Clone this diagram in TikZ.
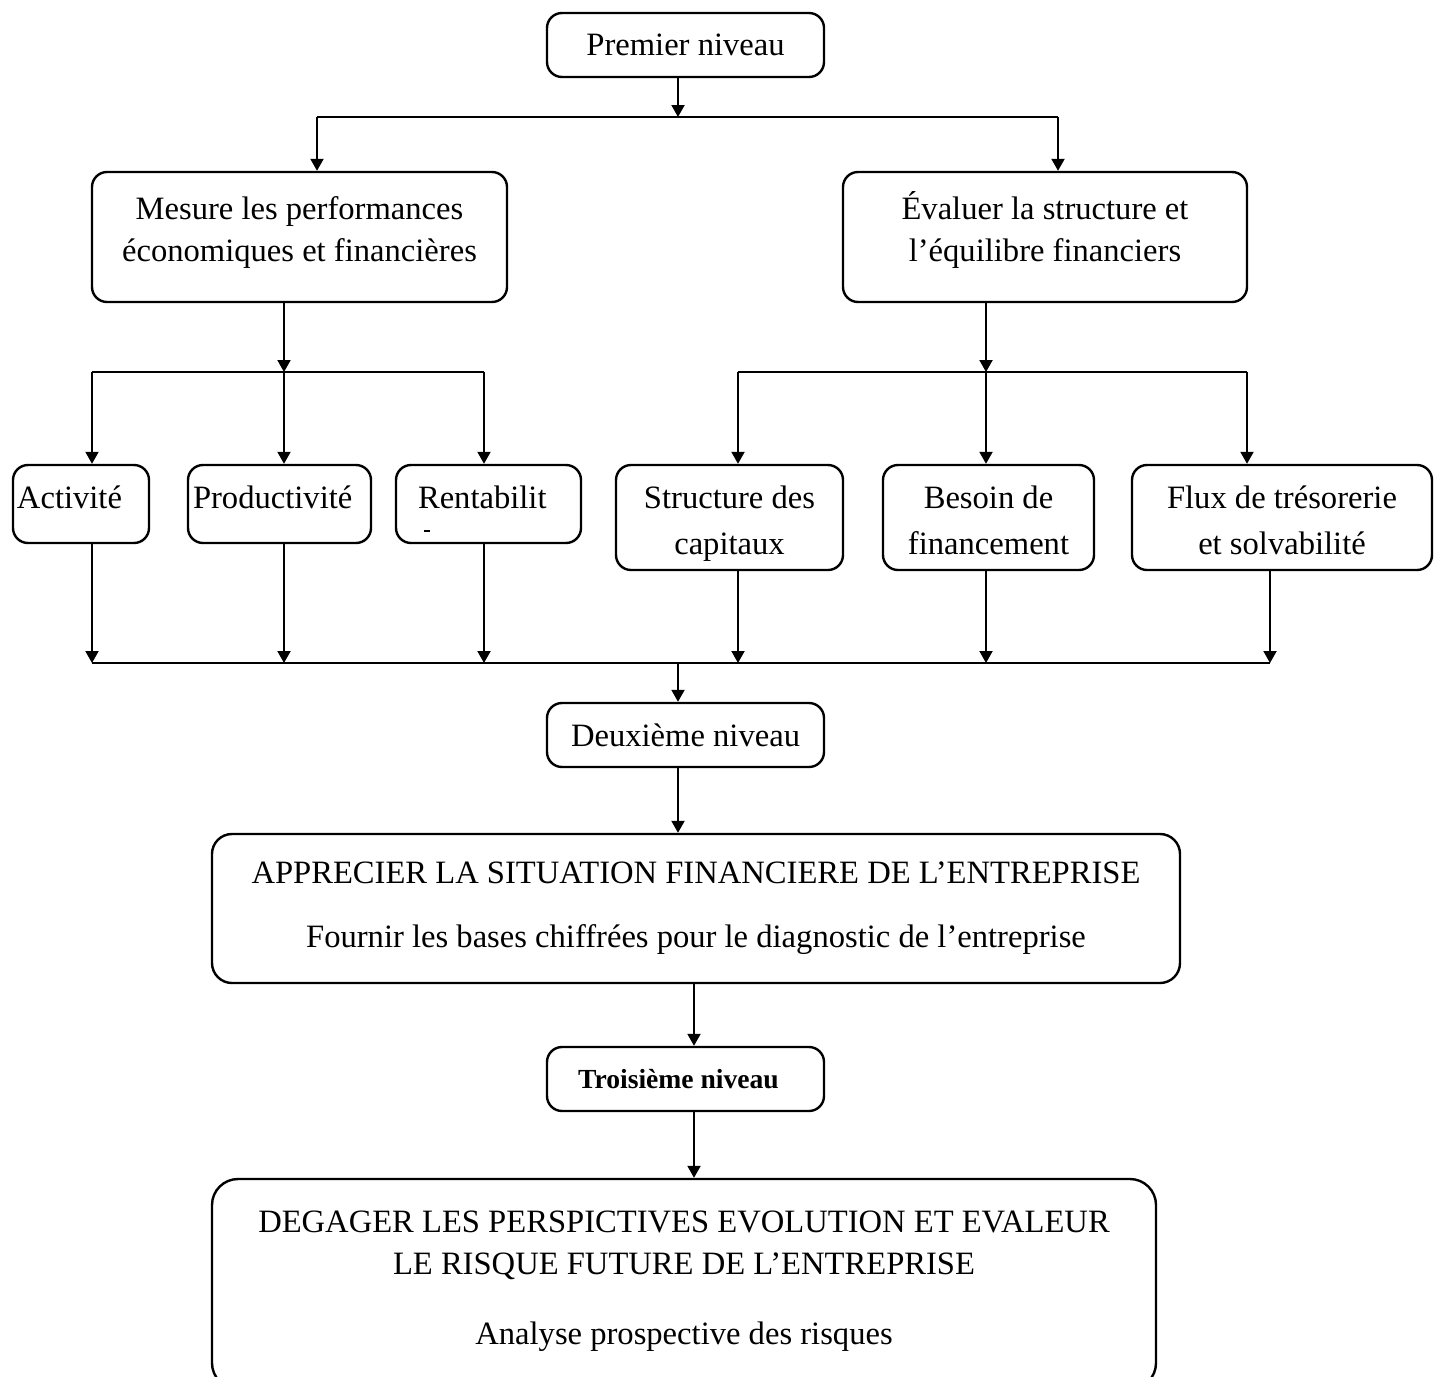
\documentclass[tikz,border=0pt]{standalone}
\usepackage{fontspec}
\setmainfont{Liberation Serif}
\usetikzlibrary{arrows.meta}
\begin{document}
\begin{tikzpicture}[x=0.5pt,y=-0.5pt,
  box/.style={draw,line width=1.2pt,rounded corners=7.5pt,inner sep=0pt,align=center,
              font=\fontsize{16.3}{21}\selectfont},
  bigbox/.style={box,rounded corners=10pt},
  leftbox/.style={box,align=left,minimum height=39pt,text height=11pt,text depth=7pt},
  twobox/.style={box,minimum height=52.5pt,font=\fontsize{16.3}{23}\selectfont,
                 text height=37pt,text depth=0pt},
  level/.style={box,minimum width=138.5pt,minimum height=32pt},
  link/.style={line width=1pt},
  arr/.style={link,-{Triangle[width=6.5pt,length=6pt]}},
]
\useasboundingbox (0,0) rectangle (1439,1376);
\clip (0,0) rectangle (1439,1376);

% first level
\node[level] (premier) at (685.5,45) {Premier niveau};
\node[box,minimum width=207.5pt,minimum height=65pt,text depth=7.5pt] (mesure) at (299.5,237)
  {Mesure les performances\\économiques et financières};
\node[box,minimum width=202pt,minimum height=65pt,text depth=10.5pt] (evaluer) at (1045,237)
  {Évaluer la structure et\\l’équilibre financiers};

% detail boxes
\node[leftbox,inner xsep=2pt,text width=64pt] (activite) at (81,504) {Activité};
\node[leftbox,inner xsep=2.5pt,text width=86.5pt] (productivite) at (279.5,504) {Productivité};
\node[leftbox,inner xsep=11pt,text width=70.5pt,
      font=\fontsize{16.3}{16}\selectfont] (rentab) at (488.5,504)
  {Rentabilit\\[-4pt]\hspace*{3pt}\rule{3pt}{1.2pt}};
\node[twobox,minimum width=113.5pt] (structure) at (729.5,517.5) {Structure des\\capitaux};
\node[twobox,minimum width=105.5pt] (besoin) at (988.5,517.5) {Besoin de\\financement};
\node[twobox,minimum width=150pt] (flux) at (1282,517.5) {Flux de trésorerie\\et solvabilité};

% second and third levels
\node[level] (deuxieme) at (685.5,735) {Deuxième niveau};
\node[bigbox,minimum width=484pt,minimum height=74.5pt] (apprecier) at (696,908.5)
  {APPRECIER LA SITUATION FINANCIERE DE L’ENTREPRISE\\[11pt]
   Fournir les bases chiffrées pour le diagnostic de l’entreprise};
\node[level,font=\fontsize{13.8}{16}\selectfont\bfseries] (troisieme) at (685.5,1079)
  {\hspace*{-7pt}Troisième niveau};
\node[bigbox,rounded corners=13pt,minimum width=472pt,minimum height=105pt,text depth=6.5pt]
  (degager) at (684,1284)
  {DEGAGER LES PERSPICTIVES EVOLUTION ET EVALEUR\\
   LE RISQUE FUTURE DE L’ENTREPRISE\\[14pt]
   Analyse prospective des risques};

% junction points
\coordinate (s1)  at (678,117);
\coordinate (s1l) at (317,117);
\coordinate (s1r) at (1058,117);
\coordinate (s2)  at (284,372);
\coordinate (s2l) at (92,372);
\coordinate (s2r) at (484,372);
\coordinate (s3)  at (986,372);
\coordinate (s3l) at (738,372);
\coordinate (s3r) at (1247,372);
\coordinate (b1) at (92,663);
\coordinate (b2) at (284,663);
\coordinate (b3) at (484,663);
\coordinate (b4) at (738,663);
\coordinate (b5) at (986,663);
\coordinate (b6) at (1270,663);
\coordinate (bm) at (678,663);
\coordinate (cx) at (694,1000);

% first split
\draw[arr] (premier.south -| s1) -- (s1);
\draw[link] (s1l) -- (s1r);
\draw[arr] (s1l) -- (s1l |- mesure.north);
\draw[arr] (s1r) -- (s1r |- evaluer.north);

% performance branch
\draw[arr] (mesure.south -| s2) -- (s2);
\draw[link] (s2l) -- (s2r);
\draw[arr] (s2l) -- (s2l |- activite.north);
\draw[arr] (s2)  -- (s2 |- productivite.north);
\draw[arr] (s2r) -- (s2r |- rentab.north);

% structure branch
\draw[arr] (evaluer.south -| s3) -- (s3);
\draw[link] (s3l) -- (s3r);
\draw[arr] (s3l) -- (s3l |- structure.north);
\draw[arr] (s3)  -- (s3 |- besoin.north);
\draw[arr] (s3r) -- (s3r |- flux.north);

% collecting bus
\draw[arr] (activite.south -| b1) -- (b1);
\draw[arr] (productivite.south -| b2) -- (b2);
\draw[arr] (rentab.south -| b3) -- (b3);
\draw[arr] (structure.south -| b4) -- (b4);
\draw[arr] (besoin.south -| b5) -- (b5);
\draw[arr] (flux.south -| b6) -- (b6);
\draw[link] (b1) -- (b6);

% lower chain
\draw[arr] (bm) -- (bm |- deuxieme.north);
\draw[arr] (deuxieme.south -| bm) -- (bm |- apprecier.north);
\draw[arr] (apprecier.south -| cx) -- (cx |- troisieme.north);
\draw[arr] (troisieme.south -| cx) -- (cx |- degager.north);
\end{tikzpicture}
\end{document}
